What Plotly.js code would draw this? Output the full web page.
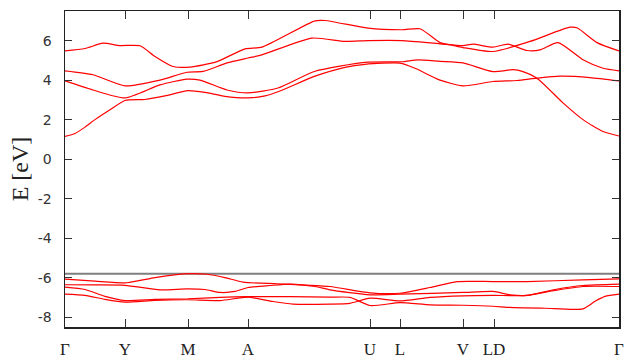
<!DOCTYPE html>
<html><head><meta charset="utf-8">
<script src="https://cdn.plot.ly/plotly-3.0.1.min.js"></script>
<style>body{margin:0;background:#fff}#chart{width:626px;height:360px}</style>
</head><body><div id="chart"></div>
<script>
// k-path high-symmetry points (path distance units) and labels
const kTicks = [0, 60, 123, 183, 305, 335, 398, 429, 554];
const kLabels = ['Γ', 'Y', 'M', 'A', 'U', 'L', 'V', 'LD', 'Γ'];
const eTicks = [-8, -6, -4, -2, 0, 2, 4, 6];
const eLabels = ['-8', '-6', '-4', '-2', '0', '2', '4', '6'];
const fermiLevel = -5.8;

// conduction bands
const c1_k = [0,10,20,30,45,60,80,100,123,140,160,183,200,215,250,280,300,335,350,375,398,428,452,472,495,525,554];
const c1_E = [1.15,1.3,1.62,2.0,2.5,2.97,3.02,3.2,3.47,3.38,3.18,3.1,3.2,3.45,4.2,4.65,4.8,4.86,4.6,4.0,3.71,3.93,3.98,4.1,4.2,4.13,3.96];
const c2_k = [0,28,60,95,122,135,162,183,213,250,300,337,353,375,398,428,448,458,472,498,518,538,554];
const c2_E = [3.96,3.5,3.1,3.76,4.05,4.0,3.5,3.35,3.6,4.45,4.9,4.93,5.03,4.95,4.87,4.43,4.53,4.43,4.1,2.85,2.0,1.4,1.17];
const c3_k = [0,28,60,95,122,138,162,183,197,247,280,303,337,375,398,408,428,443,462,475,493,518,538,554];
const c3_E = [4.47,4.27,3.71,4.0,4.4,4.44,4.87,5.12,5.28,6.13,5.96,6.0,6.0,5.84,5.75,5.82,5.67,5.82,5.5,5.53,5.9,5.03,4.6,4.47];
const c4_k = [0,20,38,55,75,90,108,125,152,180,197,250,260,303,337,355,375,385,398,428,465,505,512,532,554];
const c4_E = [5.48,5.6,5.87,5.75,5.74,5.2,4.69,4.66,4.94,5.58,5.67,7.0,7.02,6.63,6.55,6.6,5.9,5.79,5.65,5.45,5.96,6.68,6.65,5.9,5.48];

// valence bands
const v1_k = [0,30,62,90,118,142,160,178,212,240,265,305,335,365,392,428,462,518,554];
const v1_E = [-6.08,-6.18,-6.26,-6.0,-5.81,-5.83,-6.0,-6.23,-6.31,-6.38,-6.45,-6.77,-6.79,-6.5,-6.2,-6.2,-6.2,-6.11,-6.06];
const v2_k = [0,30,60,95,122,140,155,170,183,205,225,250,265,305,335,398,428,445,462,490,518,554];
const v2_E = [-6.36,-6.37,-6.39,-6.62,-6.57,-6.6,-6.75,-6.7,-6.5,-6.4,-6.33,-6.45,-6.62,-6.87,-6.84,-6.75,-6.7,-6.87,-6.9,-6.6,-6.4,-6.33];
const v3_k = [0,20,40,60,90,123,155,183,225,265,285,305,335,365,398,428,445,480,518,530,540,554];
const v3_E = [-6.48,-6.6,-6.95,-7.16,-7.1,-7.07,-7.0,-6.96,-6.96,-6.99,-7.0,-7.41,-7.27,-7.38,-7.4,-7.45,-7.51,-7.55,-7.58,-7.2,-6.95,-6.84];
const v4_k = [0,20,40,60,90,123,155,183,208,228,265,285,305,335,365,398,428,462,490,518,554];
const v4_E = [-6.84,-6.9,-7.1,-7.24,-7.15,-7.12,-7.16,-6.99,-7.21,-7.34,-7.34,-7.3,-7.04,-7.18,-7.0,-6.92,-6.9,-6.9,-6.65,-6.45,-6.45];

const bands = [[c1_k,c1_E],[c2_k,c2_E],[c3_k,c3_E],[c4_k,c4_E],[v1_k,v1_E],[v2_k,v2_E],[v3_k,v3_E],[v4_k,v4_E]];
const traces = [{
  x: [kTicks[0], kTicks[kTicks.length-1]], y: [fermiLevel, fermiLevel],
  mode: 'lines', line: {color: '#7f7f7f', width: 2}, hoverinfo: 'skip'
}];
bands.forEach(b => traces.push({
  x: b[0], y: b[1], mode: 'lines',
  line: {color: '#ff0000', width: 1.2, shape: 'spline', smoothing: 0.6}
}));

const layout = {
  width: 626, height: 360, showlegend: false,
  paper_bgcolor: '#fff', plot_bgcolor: '#fff',
  margin: {l: 65, r: 7, t: 11, b: 33},
  xaxis: {
    range: [0, 554], tickvals: kTicks, ticktext: kLabels,
    ticks: 'inside', ticklen: 8, tickwidth: 1, tickcolor: '#333',
    showgrid: false, zeroline: false,
    showline: true, linecolor: '#222', linewidth: 1.5, mirror: 'allticks',
    tickfont: {family: 'Liberation Serif, serif', size: 17, color: '#222'},
    ticklabelstandoff: 6
  },
  yaxis: {
    range: [-8.5, 7.5], tickvals: eTicks, ticktext: eLabels,
    ticks: 'inside', ticklen: 7, tickwidth: 1, tickcolor: '#333',
    showgrid: false, zeroline: false,
    showline: true, linecolor: '#222', linewidth: 1.5, mirror: 'allticks',
    tickfont: {family: 'DejaVu Sans, sans-serif', size: 14, color: '#333'},
    ticklabelstandoff: 9,
    title: {text: 'E [eV]', font: {family: 'Liberation Serif, serif', size: 24, color: '#222'}, standoff: 2}
  }
};
Plotly.newPlot('chart', traces, layout, {displayModeBar: false, staticPlot: true});
</script></body></html>
